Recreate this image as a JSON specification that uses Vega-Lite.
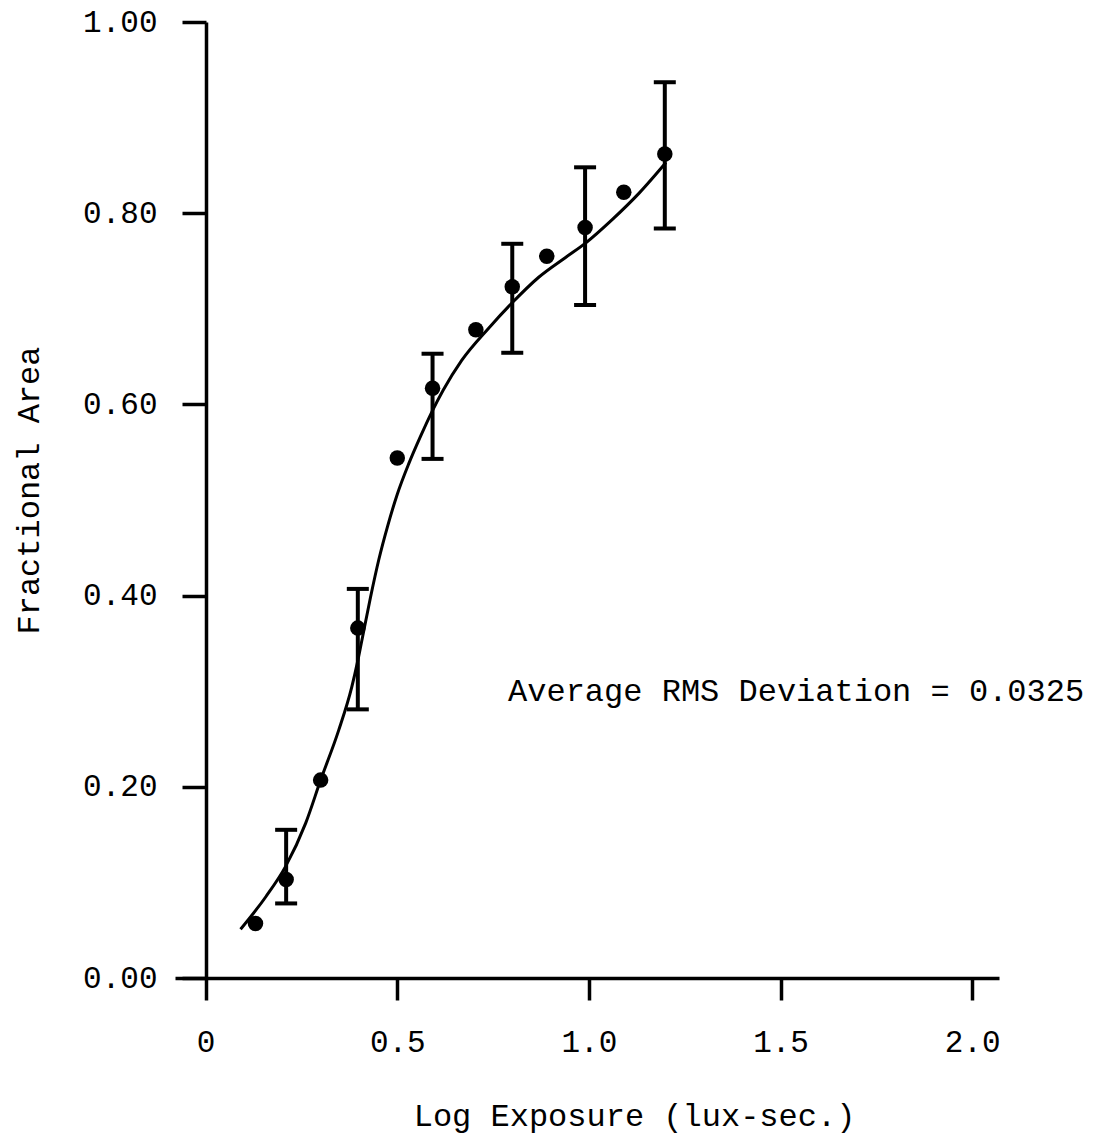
{
  "$schema": "https://vega.github.io/schema/vega-lite/v6.json",
  "autosize": {"type": "none"},
  "padding": {"left": 175, "top": 22, "right": 96, "bottom": 160},
  "width": 824,
  "height": 956,
  "background": "white",
  "config": {
    "view": {"stroke": null},
    "font": "Liberation Mono",
    "axis": {
      "domainColor": "black", "domainWidth": 3.5, "tickColor": "black", "tickWidth": 3.5,
      "labelColor": "black", "titleColor": "black", "labelFont": "Liberation Mono", "titleFont": "Liberation Mono",
      "labelFontSize": 31, "titleFontSize": 32, "titleFontWeight": "normal", "grid": false
    }
  },
  "datasets": {
    "points": [
      {"x": 0.13, "y": 0.057},
      {"x": 0.21, "y": 0.103, "lo": 0.078, "hi": 0.155},
      {"x": 0.30, "y": 0.207},
      {"x": 0.397, "y": 0.366, "lo": 0.281, "hi": 0.407},
      {"x": 0.50, "y": 0.544},
      {"x": 0.592, "y": 0.617, "lo": 0.543, "hi": 0.653},
      {"x": 0.705, "y": 0.678},
      {"x": 0.80, "y": 0.723, "lo": 0.654, "hi": 0.768},
      {"x": 0.89, "y": 0.755},
      {"x": 0.99, "y": 0.785, "lo": 0.704, "hi": 0.848},
      {"x": 1.091, "y": 0.822},
      {"x": 1.198, "y": 0.862, "lo": 0.784, "hi": 0.937}
    ],
    "curve": [
      {"x": 0.091, "y": 0.051},
      {"x": 0.157, "y": 0.085},
      {"x": 0.209, "y": 0.117},
      {"x": 0.261, "y": 0.162},
      {"x": 0.300, "y": 0.207},
      {"x": 0.347, "y": 0.259},
      {"x": 0.381, "y": 0.304},
      {"x": 0.397, "y": 0.332},
      {"x": 0.407, "y": 0.352},
      {"x": 0.430, "y": 0.398},
      {"x": 0.452, "y": 0.438},
      {"x": 0.475, "y": 0.473},
      {"x": 0.500, "y": 0.506},
      {"x": 0.530, "y": 0.538},
      {"x": 0.560, "y": 0.566},
      {"x": 0.590, "y": 0.592},
      {"x": 0.620, "y": 0.615},
      {"x": 0.668, "y": 0.646},
      {"x": 0.739, "y": 0.680},
      {"x": 0.799, "y": 0.706},
      {"x": 0.869, "y": 0.733},
      {"x": 0.940, "y": 0.754},
      {"x": 0.992, "y": 0.769},
      {"x": 1.060, "y": 0.793},
      {"x": 1.131, "y": 0.821},
      {"x": 1.201, "y": 0.853}
    ],
    "note": [
      {"x": 0.789, "y": 0.30, "label": "Average RMS Deviation = 0.0325"}
    ]
  },
  "layer": [
    {
      "data": {"name": "curve"},
      "mark": {"type": "line", "color": "black", "strokeWidth": 3, "interpolate": "monotone"},
      "encoding": {
        "x": {
          "field": "x", "type": "quantitative",
          "scale": {"domain": [-0.08, 2.07], "nice": false, "zero": false},
          "axis": {
            "values": [0, 0.5, 1.0, 1.5, 2.0],
            "labelExpr": "datum.value == 0 ? '0' : format(datum.value, '.1f')",
            "tickSize": 22, "labelPadding": 27,
            "title": "Log Exposure (lux-sec.)",
            "titleX": 459, "titleY": 147, "titleBaseline": "alphabetic"
          }
        },
        "y": {
          "field": "y", "type": "quantitative",
          "scale": {"domain": [0, 1], "nice": false},
          "axis": {
            "values": [0, 0.2, 0.4, 0.6, 0.8, 1.0],
            "format": ".2f",
            "offset": -31,
            "tickSize": 24, "labelPadding": 25,
            "title": "Fractional Area",
            "titleX": -178, "titleY": 468, "titleAngle": -90, "titleBaseline": "middle", "titleAlign": "center"
          }
        },
        "order": {"field": "x", "type": "quantitative"}
      }
    },
    {
      "data": {"name": "points"},
      "transform": [{"filter": "isValid(datum.lo)"}],
      "mark": {"type": "rule", "color": "black", "strokeWidth": 4},
      "encoding": {
        "x": {"field": "x", "type": "quantitative"},
        "y": {"field": "lo", "type": "quantitative"},
        "y2": {"field": "hi"}
      }
    },
    {
      "data": {"name": "points"},
      "transform": [{"filter": "isValid(datum.lo)"}],
      "mark": {"type": "tick", "color": "black", "opacity": 1, "orient": "horizontal", "size": 22, "thickness": 4},
      "encoding": {
        "x": {"field": "x", "type": "quantitative"},
        "y": {"field": "lo", "type": "quantitative"}
      }
    },
    {
      "data": {"name": "points"},
      "transform": [{"filter": "isValid(datum.hi)"}],
      "mark": {"type": "tick", "color": "black", "opacity": 1, "orient": "horizontal", "size": 22, "thickness": 4},
      "encoding": {
        "x": {"field": "x", "type": "quantitative"},
        "y": {"field": "hi", "type": "quantitative"}
      }
    },
    {
      "data": {"name": "points"},
      "mark": {"type": "circle", "color": "black", "opacity": 1, "size": 240},
      "encoding": {
        "x": {"field": "x", "type": "quantitative"},
        "y": {"field": "y", "type": "quantitative"}
      }
    },
    {
      "data": {"name": "note"},
      "mark": {"type": "text", "align": "left", "baseline": "middle", "fontSize": 32, "font": "Liberation Mono", "color": "black"},
      "encoding": {
        "x": {"field": "x", "type": "quantitative"},
        "y": {"field": "y", "type": "quantitative"},
        "text": {"field": "label"}
      }
    }
  ]
}
